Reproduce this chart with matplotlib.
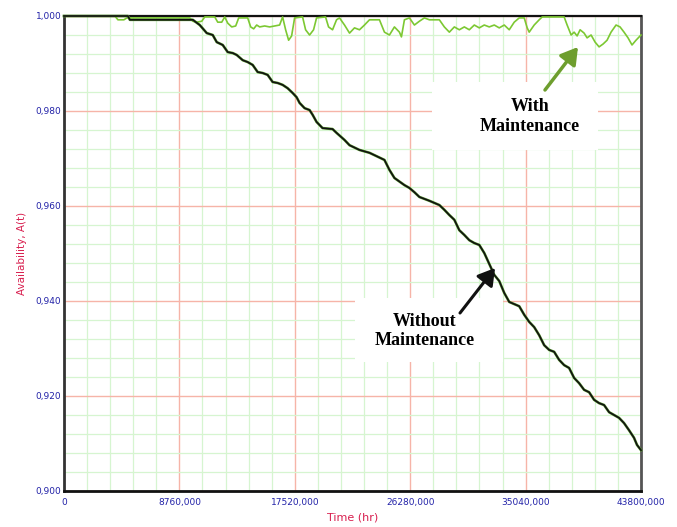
import matplotlib
matplotlib.use("Agg")
import matplotlib.pyplot as plt
from matplotlib.ticker import FixedLocator, MultipleLocator
from matplotlib.patches import Rectangle, FancyArrowPatch

# ---- data ----
time_without = [0, 4850, 5000, 9776, 10306, 10837, 11291, 11594, 12049, 12428, 12807, 13110,
                13565, 13944, 14322, 14701, 15080, 15459, 15838, 16217, 16596, 16975, 17354,
                17657, 17884, 18263, 18642, 18872, 19172, 19627, 20385, 20688, 21294, 21674,
                22431, 23189, 23568, 24325, 24704, 25083, 25841, 26220, 26599, 26978, 27735,
                28493, 28872, 29251, 29630, 30009, 30388, 30767, 31146, 31524, 31903, 32282,
                32661, 33040, 33419, 33798, 34556, 34935, 35313, 35692, 36071, 36450, 36829,
                37208, 37587, 37966, 38344, 38723, 39102, 39481, 39860, 40239, 40618, 40997,
                41376, 41754, 42133, 42512, 42891, 43270, 43497, 43800]
avail_without = [1.0, 1.0, 0.9992, 0.9992, 0.9981, 0.9964, 0.9960, 0.9945, 0.9939, 0.9924, 0.9922,
                 0.9918, 0.9907, 0.9903, 0.9897, 0.9882, 0.9880, 0.9876, 0.9861, 0.9859, 0.9855,
                 0.9848, 0.9838, 0.9829, 0.9817, 0.9806, 0.9802, 0.9792, 0.9777, 0.9764, 0.9762,
                 0.9754, 0.9739, 0.9728, 0.9718, 0.9712, 0.9707, 0.9697, 0.9676, 0.9659, 0.9644,
                 0.9638, 0.9629, 0.9619, 0.9611, 0.9602, 0.9592, 0.9581, 0.9571, 0.9549, 0.9539,
                 0.9528, 0.9522, 0.9518, 0.9501, 0.9478, 0.9455, 0.9442, 0.9417, 0.9398, 0.9389,
                 0.9371, 0.9356, 0.9345, 0.9328, 0.9307, 0.9297, 0.9293, 0.9276, 0.9265, 0.9259,
                 0.9238, 0.9227, 0.9213, 0.9208, 0.9192, 0.9185, 0.9181, 0.9166, 0.9160, 0.9154,
                 0.9143, 0.9128, 0.9112, 0.9097, 0.9086]

time_with = [0, 3865, 4092, 4547, 4774, 9548, 9776, 10079, 10458, 10685, 11443, 11670, 11973,
             12201, 12428, 12731, 13034, 13262, 13944, 14171, 14398, 14626, 14853, 15232, 15611,
             15990, 16368, 16596, 16823, 17051, 17278, 17505, 18112, 18339, 18642, 18945, 19172,
             19854, 20082, 20385, 20688, 20915, 21294, 21674, 22052, 22431, 22810, 23189, 23946,
             24325, 24704, 25083, 25462, 25614, 25841, 26220, 26599, 26978, 27357, 27735, 28493,
             28872, 29251, 29630, 30009, 30388, 30767, 31146, 31524, 31903, 32282, 32661, 33040,
             33419, 33798, 34177, 34556, 34935, 35162, 35313, 35692, 36071, 36299, 37966, 38193,
             38496, 38723, 38951, 39178, 39481, 39708, 40012, 40315, 40618, 40921, 41224, 41527,
             41906, 42209, 42512, 42815, 43118, 43421, 43800]
avail_with = [1.0, 1.0, 0.9992, 0.9992, 0.9996, 0.9996, 0.9989, 0.9987, 0.9989, 0.9998, 0.9998,
              0.9987, 0.9987, 0.9998, 0.9985, 0.9977, 0.9979, 0.9996, 0.9996, 0.9977, 0.9973,
              0.9981, 0.9977, 0.9979, 0.9977, 0.9979, 0.9981, 0.9998, 0.9971, 0.9949, 0.9958,
              0.9996, 0.9998, 0.9971, 0.9960, 0.9971, 0.9996, 0.9998, 0.9977, 0.9971, 0.9992,
              0.9996, 0.9981, 0.9964, 0.9975, 0.9971, 0.9981, 0.9992, 0.9992, 0.9966, 0.9960,
              0.9977, 0.9966, 0.9956, 0.9992, 0.9996, 0.9981, 0.9989, 0.9996, 0.9992, 0.9992,
              0.9977, 0.9966, 0.9977, 0.9971, 0.9977, 0.9971, 0.9981, 0.9975, 0.9981, 0.9977,
              0.9981, 0.9975, 0.9981, 0.9971, 0.9987, 0.9996, 0.9996, 0.9975, 0.9966, 0.9981,
              0.9992, 0.9998, 0.9998, 0.9981, 0.9960, 0.9966, 0.9958, 0.9971, 0.9964, 0.9954,
              0.9960, 0.9945, 0.9935, 0.9941, 0.9949, 0.9966, 0.9981, 0.9977, 0.9966, 0.9954,
              0.9939, 0.9949, 0.9960]

x_ticks = [0, 8760, 17520, 26280, 35040, 43800]
x_tick_labels = ["0", "8760,000", "17520,000", "26280,000", "35040,000", "43800,000"]
y_ticks = [0.900, 0.920, 0.940, 0.960, 0.980, 1.000]
y_tick_labels = ["0,900", "0,920", "0,940", "0,960", "0,980", "1,000"]

label_with = "With\nMaintenance"
label_without = "Without\nMaintenance"
x_label = "Time (hr)"
y_label = "Availability, A(t)"

# ---- figure ----
fig = plt.figure(figsize=(6.77, 5.27), dpi=100)
ax = fig.add_axes([64 / 677, 1 - 491 / 527, 577 / 677, 475 / 527])

ax.set_xlim(0, 43800)
ax.set_ylim(0.9, 1.0)

ax.xaxis.set_major_locator(FixedLocator(x_ticks))
ax.yaxis.set_major_locator(FixedLocator(y_ticks))
ax.xaxis.set_minor_locator(MultipleLocator(8760 / 5))
ax.yaxis.set_minor_locator(MultipleLocator(0.004))
ax.set_xticklabels(x_tick_labels)
ax.set_yticklabels(y_tick_labels)

tick_color = "#2323a8"
ax.tick_params(axis="both", which="both", length=0, labelsize=6.5, labelcolor=tick_color)
ax.tick_params(axis="x", pad=5)
ax.tick_params(axis="y", pad=2)

ax.grid(which="minor", color="#d6f5d0", lw=0.9, zorder=0)
ax.grid(which="major", color="#f6b4a8", lw=1.0, zorder=0)
ax.set_axisbelow(True)

for side, col, lw in [("left", "#333333", 2.0), ("bottom", "#111111", 2.0),
                      ("right", "#555555", 2.0), ("top", "#111111", 1.6)]:
    ax.spines[side].set_color(col)
    ax.spines[side].set_linewidth(lw)

label_color = "#d81e4e"
ax.set_xlabel(x_label, color=label_color, fontsize=8, labelpad=4)
ax.set_ylabel(y_label, color=label_color, fontsize=7.5, labelpad=6)

# white annotation boxes
ax.add_patch(Rectangle((0.638, 0.718), 0.288, 0.143, transform=ax.transAxes,
                       facecolor="white", edgecolor="none", zorder=1.5))
ax.add_patch(Rectangle((0.504, 0.272), 0.2565, 0.135, transform=ax.transAxes,
                       facecolor="white", edgecolor="none", zorder=1.5))

# lines
ax.plot(time_with, avail_with, color="#7cc832", lw=1.2, zorder=3, clip_on=False)
ax.plot(time_without, avail_without, color="#5a9a30", lw=1.9, zorder=3.5, clip_on=False)
ax.plot(time_without, avail_without, color="#111111", lw=1.2, zorder=4, clip_on=False)

serif = ["Liberation Serif", "DejaVu Serif"]
ax.text(0.8076, 0.789, label_with, transform=ax.transAxes, ha="center", va="center",
        fontsize=13, fontweight="bold", family=serif, linespacing=1.2, zorder=5)
ax.text(0.6256, 0.337, label_without, transform=ax.transAxes, ha="center", va="center",
        fontsize=13, fontweight="bold", family=serif, linespacing=1.2, zorder=5)

arr1 = FancyArrowPatch((0.8336, 0.8442), (0.8908, 0.9347), transform=ax.transAxes,
                       arrowstyle="-|>,head_length=10,head_width=6", lw=2.5,
                       color="#6e9e2e", zorder=6, shrinkA=0, shrinkB=0)
ax.add_patch(arr1)
arr2 = FancyArrowPatch((0.6863, 0.3747), (0.747, 0.4695), transform=ax.transAxes,
                       arrowstyle="-|>,head_length=10,head_width=6", lw=2.2,
                       color="#111111", zorder=6, shrinkA=0, shrinkB=0)
ax.add_patch(arr2)

fig.savefig("out.png", dpi=100)
